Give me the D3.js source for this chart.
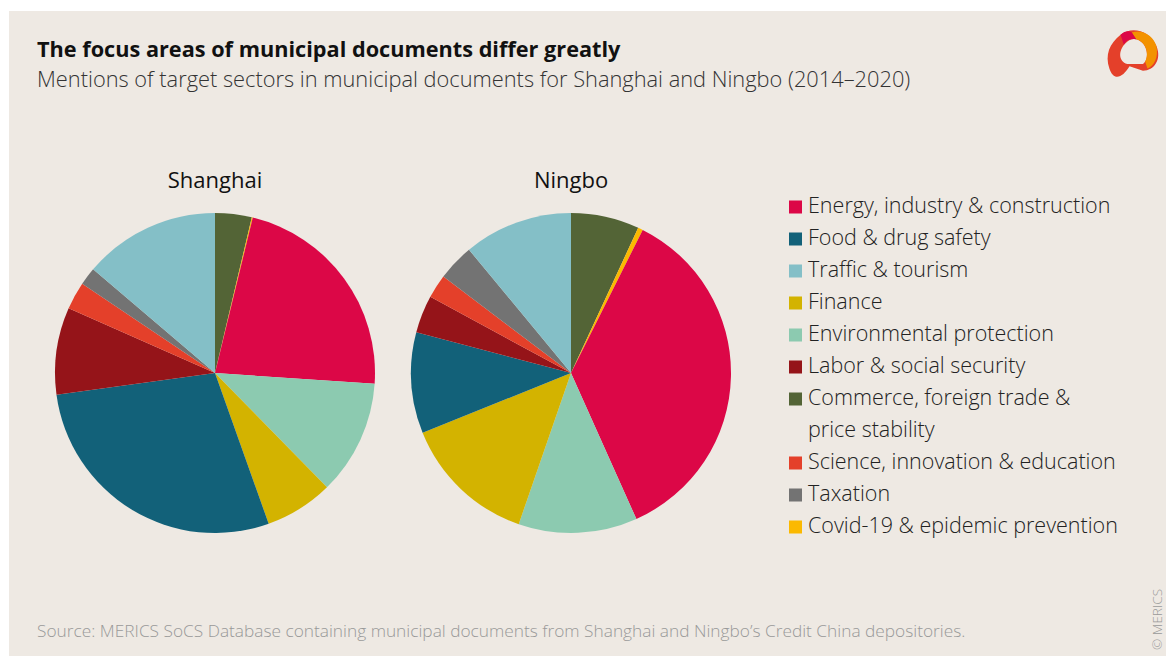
<!DOCTYPE html>
<html>
<head>
<meta charset="utf-8">
<script src="https://cdn.jsdelivr.net/npm/d3@7"></script>
<style>
  body { margin: 0; background: #fff; }
  svg { display: block; }
  text { font-family: "Open Sans", "Noto Sans", sans-serif; }
</style>
</head>
<body>
<svg width="1166" height="657"></svg>
<script>
// sectors in the order they go round the pie (clockwise from 12 o'clock)
const sectors = ["Commerce, foreign trade & price stability", "Covid-19 & epidemic prevention",
  "Energy, industry & construction", "Environmental protection", "Finance", "Food & drug safety",
  "Labor & social security", "Science, innovation & education", "Taxation", "Traffic & tourism"]
const colors = ["#536436", "#fbb900", "#dc0747", "#8ccab0", "#d3b300", "#126179",
  "#951419", "#e4402a", "#737373", "#84bfc7"]

// share of mentions, percent
const shanghai = [3.7, 0.1, 22.3, 11.6, 6.9, 28.3, 8.8, 2.8, 1.8, 13.8]
const ningbo = [6.9, 0.5, 35.9, 12.0, 13.6, 10.2, 3.8, 2.4, 3.7, 11.0]

const cities = ["Shanghai", "Ningbo"]

// legend order and its (wrapped) labels
const legendOrder = [2, 5, 9, 4, 3, 6, 0, 7, 8, 1]
const legendLabels = {
  0: ["Commerce, foreign trade &", "price stability"]
}

const svg = d3.select("svg")
const width = +svg.attr("width")
const height = +svg.attr("height")

svg.append("rect")
  .attr("x", 9).attr("y", 11)
  .attr("width", width - 9).attr("height", height - 12)
  .attr("fill", "#eee9e3")

svg.append("text")
  .attr("x", 37).attr("y", 57)
  .attr("font-size", 21.7).attr("font-weight", 700)
  .attr("fill", "#111")
  .text("The focus areas of municipal documents differ greatly")

svg.append("text")
  .attr("x", 37).attr("y", 87)
  .attr("font-size", 21.8).attr("font-weight", 300)
  .attr("fill", "#333")
  .text("Mentions of target sectors in municipal documents for Shanghai and Ningbo (2014\u20132020)")

// pies
const color = d3.scaleOrdinal().domain(sectors).range(colors)
const pie = d3.pie().sort(null).value(d => d.v)
const arc = d3.arc().innerRadius(0).outerRadius(160)
const cx = d3.scalePoint().domain(cities).range([215, 571])
const cy = 373

const data = { Shanghai: shanghai, Ningbo: ningbo }

cities.forEach(city => {
  const g = svg.append("g").attr("transform", `translate(${cx(city)},${cy})`)
  g.selectAll("path")
    .data(pie(data[city].map((v, i) => ({ k: sectors[i], v }))))
    .join("path")
    .attr("d", arc)
    .attr("fill", d => color(d.data.k))
  svg.append("text")
    .attr("x", cx(city)).attr("y", 188)
    .attr("text-anchor", "middle")
    .attr("font-size", 22).attr("font-weight", 400)
    .attr("fill", "#111")
    .text(city)
})

// legend
let row = 0
const legend = svg.append("g").attr("transform", "translate(789,0)")
legendOrder.forEach(i => {
  const lines = legendLabels[i] || [sectors[i]]
  const y = 206 + row * 32
  legend.append("rect")
    .attr("x", 0).attr("y", y - 5.5)
    .attr("width", 13).attr("height", 13)
    .attr("fill", colors[i])
  lines.forEach((l, j) => {
    legend.append("text")
      .attr("x", 19).attr("y", y + 7 + j * 32)
      .attr("font-size", 21.5).attr("font-weight", 300)
      .attr("fill", "#222")
      .text(l)
  })
  row += lines.length
})

svg.append("text")
  .attr("x", 37).attr("y", 637)
  .attr("font-size", 17.3).attr("font-weight", 300)
  .attr("fill", "#999")
  .text("Source: MERICS SoCS Database containing municipal documents from Shanghai and Ningbo\u2019s Credit China depositories.")

svg.append("text")
  .attr("transform", "translate(1162,650) rotate(-90)")
  .attr("font-size", 13.5).attr("font-weight", 300)
  .attr("fill", "#999")
  .text("\u00a9 MERICS")

// logo, roughly
const logo = svg.append("g").attr("transform", "translate(1134,55) scale(1.12)")
logo.append("path")
  .attr("d", "M-12,-18 C-2,-26 14,-22 20,-8 C25,4 18,14 8,14 L-4,10 C-10,20 -18,24 -22,12 C-26,0 -22,-10 -12,-18 Z M-8,-10 C-14,-4 -14,6 -6,8 L8,8 C14,4 12,-8 6,-12 C0,-16 -4,-14 -8,-10 Z")
  .attr("fill-rule", "evenodd")
  .attr("fill", "#e4402a")
logo.append("path")
  .attr("d", "M-2,-20 C8,-24 18,-16 20,-8 C22,2 18,10 12,12 L10,6 C14,-2 10,-12 2,-14 Z")
  .attr("fill", "#f39200")
logo.append("path")
  .attr("d", "M-12,-18 C-8,-22 -4,-22 -2,-20 L2,-14 C-4,-15 -8,-12 -9,-9 Z")
  .attr("fill", "#dc0747")
</script>
</body>
</html>
